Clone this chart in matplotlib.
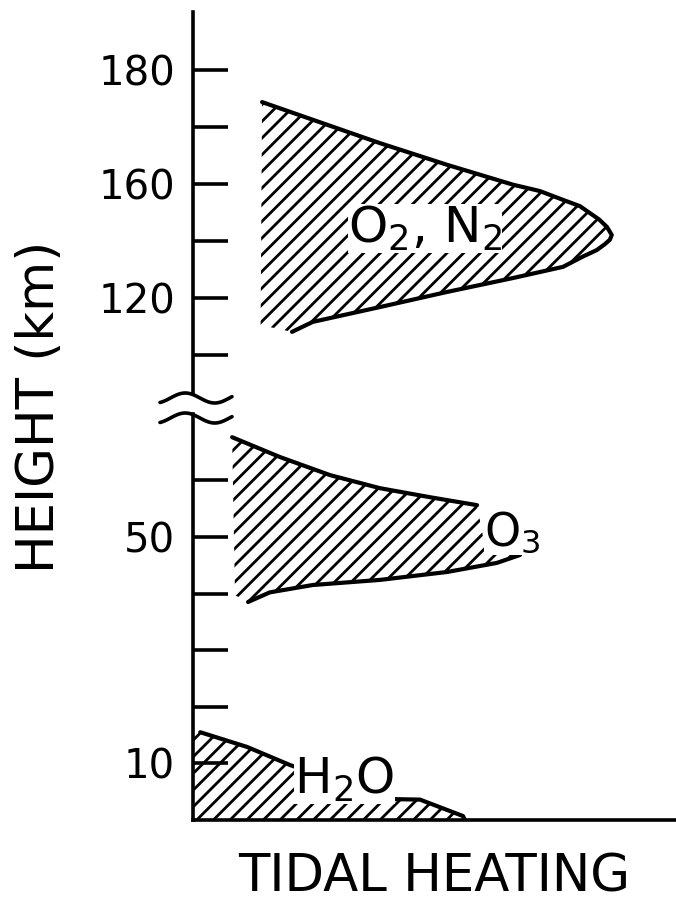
import numpy as np
import matplotlib.pyplot as plt

plt.rcParams['font.family'] = 'DejaVu Sans'
plt.rcParams['mathtext.default'] = 'regular'
plt.rcParams['hatch.linewidth'] = 2.0

# heating in arbitrary units (0-100), heights in km

# O2, N2 band (thermosphere)
o2n2_top_x = [14.3, 24.8, 38.7, 52.6, 66.3, 71.8, 76.6, 80.1, 84.1, 85.7, 86.7]
o2n2_top_h = [174.4, 171.3, 167.2, 163.4, 159.8, 157.6, 154.5, 152.3, 147.6, 145.0, 142.2]
o2n2_bot_x = [86.3, 85.3, 83.6, 80.7, 76.6, 66.3, 52.6, 38.7, 24.8, 20.5]
o2n2_bot_h = [140.5, 139.0, 136.9, 134.6, 131.0, 127.1, 122.2, 116.9, 111.7, 108.2]
o2n2_corner = (14.0, 110.6)

# O3 band (stratosphere)
o3_top_x = [8.1, 18.0, 28.4, 38.7, 49.1, 58.8]
o3_top_h = [67.6, 64.1, 60.9, 58.6, 57.0, 55.6]
o3_bot_x = [67.7, 62.9, 52.6, 38.7, 24.8, 15.9, 11.4]
o3_bot_h = [46.8, 45.4, 43.8, 42.4, 41.5, 40.2, 38.5]
o3_notch = (60.5, 48.0)
o3_corner = (8.7, 39.7)

# H2O band (troposphere)
h2o_top_x = [1.5, 11.2, 20.1, 30.5, 40.8, 47.0, 55.9, 56.3]
h2o_top_h = [15.5, 12.9, 9.7, 6.7, 3.7, 3.6, 0.7, 0.0]

upper_ticks = [120, 160, 180]
upper_minor = [100, 140, 170]
lower_ticks = [10, 50]
lower_minor = [20, 30, 40, 60]

# the upper part of the height axis is not uniform: 20 km per tick below 160, 10 km above
knots_km = [0, 160, 300]
knots_pos = [-6, 2, 16]


def fwd(h):
    return np.interp(h, knots_km, knots_pos)


def inv(p):
    return np.interp(p, knots_pos, knots_km)


W, H = 676, 919
fig = plt.figure(figsize=(W / 100, H / 100), dpi=100)
left = 193 / W
ax_up = fig.add_axes([left, 1 - 394 / H, 1 - left, (394 - 12) / H])
ax_lo = fig.add_axes([left, 1 - 820 / H, 1 - left, (820 - 414) / H])

ax_up.set_yscale('function', functions=(fwd, inv))
ax_up.set_ylim(86.4, 190.2)
ax_lo.set_ylim(0, 71.7)
for ax in (ax_up, ax_lo):
    ax.set_xlim(0, 100)
    ax.set_xticks([])
    ax.spines[['top', 'right']].set_visible(False)
    ax.spines['left'].set_linewidth(2.6)
    ax.spines['bottom'].set_linewidth(2.6)
    ax.tick_params(axis='y', which='both', direction='in', length=25,
                   width=2.6, labelsize=29, pad=13)
    ax.patch.set_alpha(0)
ax_up.spines['bottom'].set_visible(False)

ax_up.set_yticks(upper_ticks, [str(v) for v in upper_ticks])
ax_up.set_yticks(upper_minor, minor=True)
ax_up.set_yticklabels([], minor=True)
ax_lo.set_yticks(lower_ticks, [str(v) for v in lower_ticks])
ax_lo.set_yticks(lower_minor, minor=True)
ax_lo.set_yticklabels([], minor=True)

lw = 3.0
hatch = '//'

# O2, N2
px = o2n2_top_x + o2n2_bot_x + [o2n2_corner[0]]
py = o2n2_top_h + o2n2_bot_h + [o2n2_corner[1]]
ax_up.fill(px, py, facecolor='none', edgecolor='black', linewidth=0, hatch=hatch)
ax_up.plot(o2n2_top_x + o2n2_bot_x, o2n2_top_h + o2n2_bot_h, color='black',
           lw=lw, solid_capstyle='round', solid_joinstyle='round')
ax_up.text(32.0, 139.4, r'O$_2$, N$_2$', fontsize=36, va='baseline', ha='left',
           bbox=dict(facecolor='white', edgecolor='none', pad=0), zorder=4)

# O3
px = o3_top_x + [o3_notch[0]] + o3_bot_x + [o3_corner[0]]
py = o3_top_h + [o3_notch[1]] + o3_bot_h + [o3_corner[1]]
ax_lo.fill(px, py, facecolor='none', edgecolor='black', linewidth=0, hatch=hatch)
ax_lo.plot(o3_top_x, o3_top_h, color='black', lw=lw, solid_capstyle='round',
           solid_joinstyle='round')
ax_lo.plot(o3_bot_x, o3_bot_h, color='black', lw=lw, solid_capstyle='round',
           solid_joinstyle='round')
ax_lo.text(60.2, 48.5, r'O$_3$', fontsize=33, va='baseline', ha='left',
           bbox=dict(facecolor='white', edgecolor='none', pad=0), zorder=4)

# H2O
px = [0] + h2o_top_x + [0]
py = [h2o_top_h[0]] + h2o_top_h + [0]
ax_lo.fill(px, py, facecolor='none', edgecolor='black', linewidth=0, hatch=hatch)
ax_lo.plot(h2o_top_x, h2o_top_h, color='black', lw=lw, solid_capstyle='round',
           solid_joinstyle='round')
ax_lo.text(21.0, 4.6, r'H$_2$O', fontsize=36, va='baseline', ha='left',
           bbox=dict(facecolor='white', edgecolor='none', pad=0), zorder=4)


# wavy break marks across the height axis
def wave(y_px):
    t = np.linspace(0, 1, 80)
    xs = 160 + 72 * t
    ys = y_px - 5 * np.sin(2 * np.pi * (t - 0.35) / 0.82 + np.pi / 2)
    fig.add_artist(plt.Line2D(xs / W, 1 - ys / H, color='black', lw=2.6,
                              solid_capstyle='round'))


wave(398)
wave(418)

fig.text(434 / W, 1 - 877 / H, 'TIDAL HEATING', fontsize=37, ha='center', va='center')
fig.text(40 / W, 1 - 407 / H, 'HEIGHT (km)', fontsize=37, rotation=90,
         ha='center', va='center')

fig.savefig('out.png', dpi=100)
